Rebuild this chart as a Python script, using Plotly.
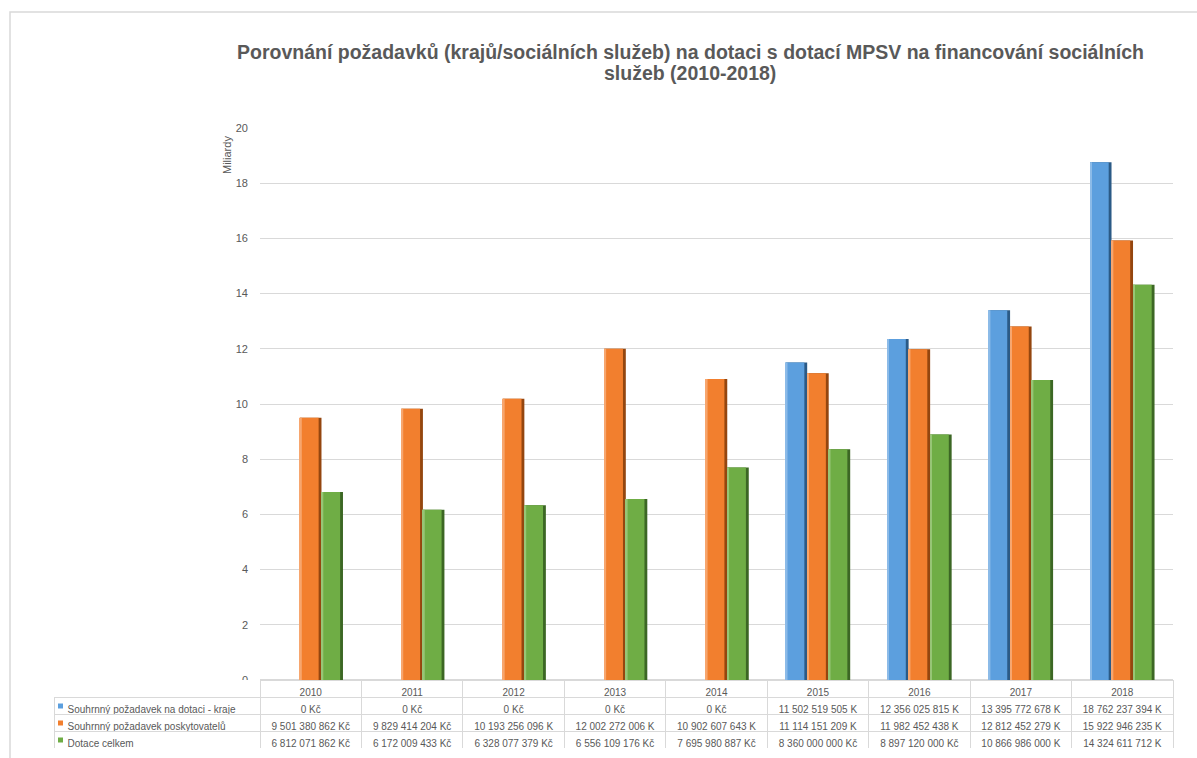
import plotly.graph_objects as go

years = ["2010", "2011", "2012", "2013", "2014", "2015", "2016", "2017", "2018"]
series_names = [
    "Souhrnný požadavek na dotaci - kraje",
    "Souhrnný požadavek poskytovatelů",
    "Dotace celkem",
]
kraje = [0, 0, 0, 0, 0, 11502519505, 12356025815, 13395772678, 18762237394]
poskytovatele = [9501380862, 9829414204, 10193256096, 12002272006, 10902607643,
                 11114151209, 11982452438, 12812452279, 15922946235]
dotace = [6812071862, 6172009433, 6328077379, 6556109176, 7695980887,
          8360000000, 8897120000, 10866986000, 14324611712]
colors = ["#5C9FDE", "#F27F2E", "#6FAD45"]
edge_colors = ["#2B5A86", "#94460F", "#3C6724"]
light_colors = ["#8CBBE8", "#F7A66E", "#97C576"]
y_ticks = [0, 2, 4, 6, 8, 10, 12, 14, 16, 18, 20]
title_lines = [
    "Porovnání požadavků (krajů/sociálních služeb) na dotaci s dotací MPSV na financování sociálních",
    "služeb (2010-2018)",
]

all_series = [kraje, poskytovatele, dotace]


def fmt(v):
    s = f"{v:,}".replace(",", " ")
    return s + (" K" if v >= 1e10 else " Kč")


W, H = 1197, 758
ml, mr, mt, mb = 10, 24, 12, 10
pw, ph = W - ml - mr, H - mt - mb


def px(x):
    return (x - ml) / pw


def py(y):
    return (H - mb - y) / ph


x_dom0 = px(260)
y_top = py(128)
y_bot = py(680)
t_x0 = px(54)

bw = 0.212        # bar width in category units
edge = 0.028      # dark right strip
hl = 0.018        # light left strip

fig = go.Figure()
for j, (name, vals, c, ec, lc) in enumerate(zip(series_names, all_series, colors, edge_colors, light_colors)):
    yv = [v / 1e9 for v in vals]
    off = -1.5 * bw + j * bw
    fig.add_trace(go.Bar(x=years, y=yv, name=name, offset=off, width=bw,
                         marker=dict(color=ec, line=dict(width=0)), showlegend=False))
    fig.add_trace(go.Bar(x=years, y=yv, name=name, offset=off, width=bw - edge,
                         marker=dict(color=c, line=dict(width=0)), showlegend=False))
    fig.add_trace(go.Bar(x=years, y=yv, name=name, offset=off, width=hl,
                         marker=dict(color=lc, line=dict(width=0)), showlegend=False))

# data table
nb = "\u00a0\u00a0"
first_col = [nb + n for n in series_names]
cells = [first_col] + [[fmt(s[i]) for s in all_series] for i in range(len(years))]
fig.add_trace(go.Table(
    domain=dict(x=[t_x0, 1.0], y=[0, y_bot]),
    columnwidth=[206] + [101.44] * len(years),
    header=dict(
        values=[""] + years,
        height=17,
        align="center",
        line=dict(color=["rgba(0,0,0,0)"] + ["#d9d9d9"] * len(years), width=1),
        fill=dict(color="white"),
        font=dict(family="Liberation Sans", size=10, color="#595959"),
    ),
    cells=dict(
        values=cells,
        height=17,
        align=["left"] + ["center"] * len(years),
        line=dict(color="#d9d9d9", width=1),
        fill=dict(color="white"),
        font=dict(family="Liberation Sans", size=10, color="#595959"),
    ),
))

row_centers = [706, 723, 740]
shapes = [dict(type="rect", xref="paper", yref="paper", x0=0, x1=1.1, y0=-0.1, y1=1,
               line=dict(color="#d9d9d9", width=1.5), fillcolor="rgba(0,0,0,0)", layer="below")]
for c, yc in zip(colors, row_centers):
    shapes.append(dict(type="rect", xref="paper", yref="paper",
                       x0=px(58), x1=px(63), y0=py(yc + 2.5), y1=py(yc - 2.5),
                       line=dict(width=0), fillcolor=c, layer="above"))

annotations = [dict(
    text="Miliardy", textangle=-90, xref="paper", yref="paper",
    x=px(227), y=py(155), showarrow=False,
    xanchor="center", yanchor="middle",
    font=dict(family="Liberation Sans", size=11, color="#595959"),
)]
for line, yc in zip(title_lines, [52, 73]):
    annotations.append(dict(
        text=f"<b>{line}</b>", xref="paper", yref="paper",
        x=px(690), y=py(yc), showarrow=False, xanchor="center", yanchor="middle",
        font=dict(family="Liberation Sans", size=19.5, color="#595959"),
    ))

fig.update_layout(
    width=W, height=H, autosize=False,
    margin=dict(l=ml, r=mr, t=mt, b=mb, pad=0, autoexpand=False),
    paper_bgcolor="white", plot_bgcolor="white",
    barmode="overlay",
    showlegend=False,
    xaxis=dict(domain=[x_dom0, 1.0], range=[-0.5, 8.5], showticklabels=False, showgrid=False,
               showline=False, zeroline=False, ticks="", automargin=False),
    yaxis=dict(domain=[y_bot, y_top], range=[0, 20], tickvals=y_ticks,
               gridcolor="#d9d9d9", gridwidth=1, zeroline=True, zerolinecolor="#d9d9d9",
               showline=False, ticks="", ticklabelstandoff=11, automargin=False,
               tickfont=dict(family="Liberation Sans", size=11, color="#595959")),
    annotations=annotations,
    shapes=shapes,
)

fig.write_html("out.html", config={"displayModeBar": False},
               post_script="document.body.style.margin='0';document.body.style.padding='0';")
